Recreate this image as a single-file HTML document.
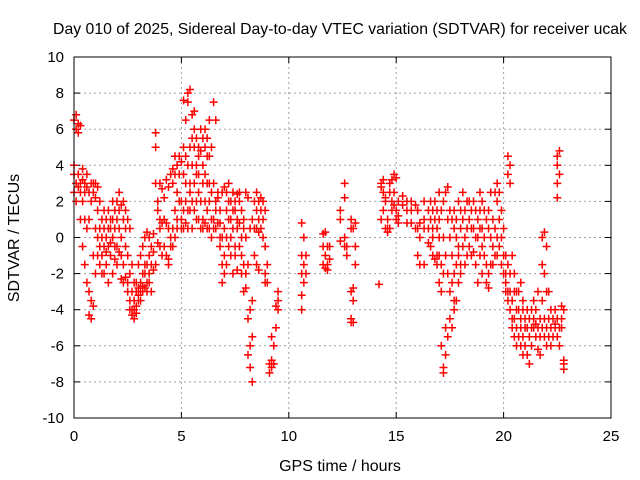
<!DOCTYPE html>
<html><head><meta charset="utf-8"><style>
body{margin:0;background:#fff}
svg{display:block;font-family:"Liberation Sans",sans-serif}
</style></head><body>
<svg id="chart" width="640" height="480">
<text x="340" y="34" text-anchor="middle" font-size="15.8">Day 010 of 2025, Sidereal Day-to-day VTEC variation (SDTVAR) for receiver ucak</text>
<text x="340" y="471" text-anchor="middle" font-size="16">GPS time / hours</text>
<text transform="translate(19,238) rotate(-90)" text-anchor="middle" font-size="16">SDTVAR / TECUs</text>
<g id="grid"></g><g id="ticks"></g><g id="marks"></g>
<rect x="74" y="57" width="537" height="361" fill="none" stroke="#000"/>
</svg>
<script>
const xTicks=[0,5,10,15,20,25];
const yTicks=[-10,-8,-6,-4,-2,0,2,4,6,8,10];
const times=[0.0,0.1,0.2,0.3,0.4,0.5,0.6,0.7,0.8,0.9,1.0,1.1,1.2,1.3,1.4,1.5,1.6,1.7,1.8,1.9,2.0,2.1,2.2,2.3,2.4,2.5,2.6,2.7,2.8,2.9,3.0,3.1,3.2,3.3,3.4,3.5,3.6,3.7,3.8,3.9,4.0,4.1,4.2,4.3,4.4,4.5,4.6,4.7,4.8,4.9,5.0,5.1,5.2,5.3,5.4,5.5,5.6,5.7,5.8,5.9,6.0,6.1,6.2,6.3,6.4,6.5,6.6,6.7,6.8,6.9,7.0,7.1,7.2,7.3,7.4,7.5,7.6,7.7,7.8,7.9,8.0,8.1,8.2,8.3,8.4,8.5,8.6,8.7,8.8,8.9,9.0,9.1,9.2,9.3,9.4,9.5,10.6,10.7,10.8,11.6,11.7,11.8,11.9,12.4,12.6,12.7,12.9,13.0,13.1,14.2,14.3,14.4,14.5,14.6,14.7,14.8,14.9,15.0,15.1,15.3,15.5,15.7,15.9,16.0,16.1,16.3,16.5,16.6,16.7,16.8,16.9,17.0,17.1,17.2,17.3,17.4,17.5,17.6,17.7,17.8,17.9,18.0,18.1,18.2,18.3,18.4,18.5,18.6,18.7,18.8,18.9,19.0,19.1,19.2,19.3,19.4,19.5,19.6,19.7,19.8,19.9,20.0,20.1,20.2,20.3,20.4,20.5,20.6,20.7,20.8,20.9,21.0,21.1,21.2,21.3,21.4,21.5,21.6,21.7,21.8,21.9,22.0,22.1,22.2,22.3,22.4,22.5,22.6,22.7,22.8];
const values=[[3.5,6.5,4,2.5],[6.8,6,3,2],[6.3,5.8,3.5,2.8],[6.2,3,2.5,1],[3.2,2,-0.5,3.8],[3,1,-1.5,2.5],[2.8,-2.5,0.5,3.5],[2.5,-4.3,-3,1],[3,-4.5,-3.5,2],[2.5,-3.8,-1,3],[2.2,-2,0.5,3],[1.5,-1,2.8,0],[0.5,-1.5,2,-0.5],[0,-1,1,-2],[-0.5,-2,1.5,0.5],[0,-1.5,-0.8,1],[-0.5,-2.5,0.5,1.5],[0.5,-1,1,-0.3],[1,0,-2,2],[0.5,-1.2,1.5,-0.5],[-0.5,1,2,-1.5],[0.5,1.5,-0.8,2.5],[-2.3,0,1.8,-1],[-2.5,1,2,-1.5],[-2.2,0.5,-0.5,1.5],[-3,-1,1,-2.5],[-3.5,-2,0.5,-4],[-4,-3,-1.5,-4.3],[-4.5,-3.5,-2.5,-4],[-3.8,-2.5,-3,-4.2],[-3.5,-2.8,-3.2,-1.5],[-3,-2.5,-3.5,-1],[-2.7,-2,-3,-0.5],[-2,-1.5,-2.8,0],[-2.5,-1.5,0.3,-3],[-2.5,-2,0,-1],[-1.5,-3,-0.5],[-1.8,0.2,-0.8],[5.8,5,-1.5,3],[1.5,2,-0.3],[3,1,-0.5,0.5],[2.7,0.8,-1,-1],[2.2,1,-0.5],[3.2,-1,0.8],[2.8,-1.2,0.5,-1.5],[3.5,-0.5,0],[3.8,3,-0.5,0.5],[4.5,3.5,1.5,0],[4,2.5,1,0.5],[3.5,4.5,2],[4.2,2,1,0.5],[7.6,3.5,1.5,0.5,5],[6.5,3,2,0.8,4.5],[7.5,8,4,1.5,0.5],[8.2,5,3,2.5,1.5],[6.8,4,2,0.5,5.5],[7,5,3,1.5,6],[5.5,4,3.5,2,1],[5,3.5,2.5,1,4.5],[6,4.8,2,0.5],[4,3,1,0.5,5.5],[6,5,3.5,2,0.8],[4.5,3,1.5,0.5,5.5],[3,2,0.5,6.5,4.5],[2.5,1,0,5],[7.5,3,1,0.5],[6.5,2,0.5,1.5],[2.5,0.8,2.2],[1.5,0,-0.5,0.8],[-2.5,-1.5,0,2.5],[-2,0.5,2.8,-1],[1.5,2.5,-1.5,0],[2,3,-0.5,1],[1,-1,2,0],[2.5,-2,0.5,1.5],[1.5,-0.5,-1,2],[2.4,0.5,-1.8,1],[2,-0.5,0.8,2.5],[1.5,-1,0,-2],[0.5,-1.5,-3,1],[0,-2,-2.8,2.5],[2.2,-1.5,-4.5,-6.5],[0.5,-4,-7.2,-6],[1,-3.5,-8,-5.5],[2,0.5,-1],[1.5,0.5,2.5,-1.5],[2,0.3,1,-1.8],[1.5,0.5,2.2],[1,0,2],[-0.5,-2,1.5,-2.5],[-1.5,-2.5],[-7,-7.5],[-6.8,-7.2,-5.5],[-6,-7],[-5,-3.8],[-3,-3.5,-4],[0.8,-1,-2,-3.2,-4],[0,-1.5,-2.5],[-1,-2],[0.2,-0.5,-1.5],[0.3,-1,-1.7],[-0.5,-1.5,-1.8],[-0.5,-1.2],[1.5,1,-0.2],[2.2,3,0,-0.5],[-1,-0.5],[1,0.5,-4.5,-4.7,-3],[0.5,-3.5,-2.8,-4.7],[0.8,-1.5,-0.5],[-2.6],[2.8,3,1],[3.2,2.5,1.5],[2,2.2,0.5],[0.3,1,0.5],[2.5,0.5,3],[3.2,2,1.5],[3.5,2.5,1.8],[3.3,1.5,1],[2,1.2,0.8],[2.3,1.8],[2,1.5,0.8],[0.8,1.5,2],[1.8,0.5],[1.5,0.5,-1],[0.8,0,-1.5],[1,0.5,-1.5,2],[1.5,0.5,-0.3],[2,1,-0.5],[0.5,-1,0,1.5],[2,1,-1.2],[1.5,-1,0.5,-1.5],[0,1,-1,-2.5,2.5],[1.5,-1.5,-3,-6],[2,0,-2,-7.2,-7.5],[2.5,-1,-5,-6.5],[2.8,1,-2,-5.5],[1.5,-3,-4.5,0],[1,-2.5,-5,-1],[0.5,-2,-4,-3.5,1.5],[0,-1.5,-3.5,1],[-0.5,-1,-2.5,2],[0.5,-1.5,-2,1.5],[1,-0.5,2.5],[1.5,0,-1.5],[0.5,-1,2],[2,1,-0.5],[1.5,-1,0.5],[2,0.5,-0.8],[0,-1.5,1.5],[1,0,-2.5],[1.5,-1,0.5,2.5],[2,-0.5,-2,0.5],[1.5,-1,0],[1,-1.5,-2.5],[0.5,-2,-2.8,1.5],[0,-1.5,2.5],[1,-0.5,-1.5],[2.5,0.5,-1],[3,2,0,-1],[2.5,1,-0.5],[1.5,0,-1.5],[0.5,-1,-2],[-2,-2.5,-1,-3],[4.5,3.5,-3,-3.5,-1.5],[4,3,-4,-3,-2],[-5,-4.5,-3.5,-1],[-5.5,-3,-4.5,-2],[-5,-4,-6,-3],[-5.5,-4,-3],[-5,-4.5,-6,-2.5],[-5.5,-4,-6.5,-3.5],[-6,-4.5,-5],[-5,-6.5,-4],[-7,-5.5,-4.5],[-6,-5,-4],[-5,-4.5,-3.5],[-5.5,-4,-4.8],[-6.2,-5,-3],[-5.5,-4.5,-6.5],[-5,-3.5,-1.5,0],[-4.5,-2,0.3,-5.5],[-5,-3,-0.5,-6],[-4.5,-5.5,-3],[-5,-4,-6],[-4.5,-5.5],[-5,-4,-4.8],[4.5,4,3,2.2,-5.5,-4.5],[4.8,3.5,-6,-5],[-4.5,-5,-3.8],[-7,-6.8,-7.3,-4]];
const X0=74,X1=611,Y0=418,Y1=57;
const xs=v=>X0+(v-0)/(25-0)*(X1-X0);
const ys=v=>Y0-(v+10)/20*(Y0-Y1);
const NS="http://www.w3.org/2000/svg";
function mk(tag,attrs,parent){const e=document.createElementNS(NS,tag);for(const k in attrs)e.setAttribute(k,attrs[k]);parent.appendChild(e);return e;}
const grid=document.getElementById('grid'),ticks=document.getElementById('ticks'),marks=document.getElementById('marks');
xTicks.forEach(t=>{const x=xs(t);
 if(t>0&&t<25){const g=mk('line',{x1:x,x2:x,y1:Y1,y2:Y0,stroke:'#a0a0a0','stroke-dasharray':'2,3'},grid);
 
 }
 mk('line',{x1:x,x2:x,y1:Y0,y2:Y0-6,stroke:'#000'},ticks);
 mk('line',{x1:x,x2:x,y1:Y1,y2:Y1+6,stroke:'#000'},ticks);
 const l=mk('text',{x:x,y:Y0+23,'text-anchor':'middle','font-size':'15'},ticks);l.textContent=t;
 
 
});
yTicks.forEach(t=>{const y=ys(t);
 if(t>-10&&t<10){const g=mk('line',{x1:X0,x2:X1,y1:y,y2:y,stroke:'#a0a0a0','stroke-dasharray':'2,3'},grid);
 
 }
 mk('line',{x1:X0,x2:X0+6,y1:y,y2:y,stroke:'#000'},ticks);
 mk('line',{x1:X1,x2:X1-6,y1:y,y2:y,stroke:'#000'},ticks);
 const l=mk('text',{x:X0-10,y:y+5,'text-anchor':'end','font-size':'15'},ticks);l.textContent=t;
 
 
});
let d='';
times.forEach((t,i)=>{values[i].forEach(v=>{const x=xs(t),y=ys(v);
 d+=`M${x-4},${y}h8M${x},${y-4}v8`;});});
const p=mk('path',{d:d,stroke:'#ff0000','stroke-width':'1.5',fill:'none'},marks);


</script>
</body></html>
